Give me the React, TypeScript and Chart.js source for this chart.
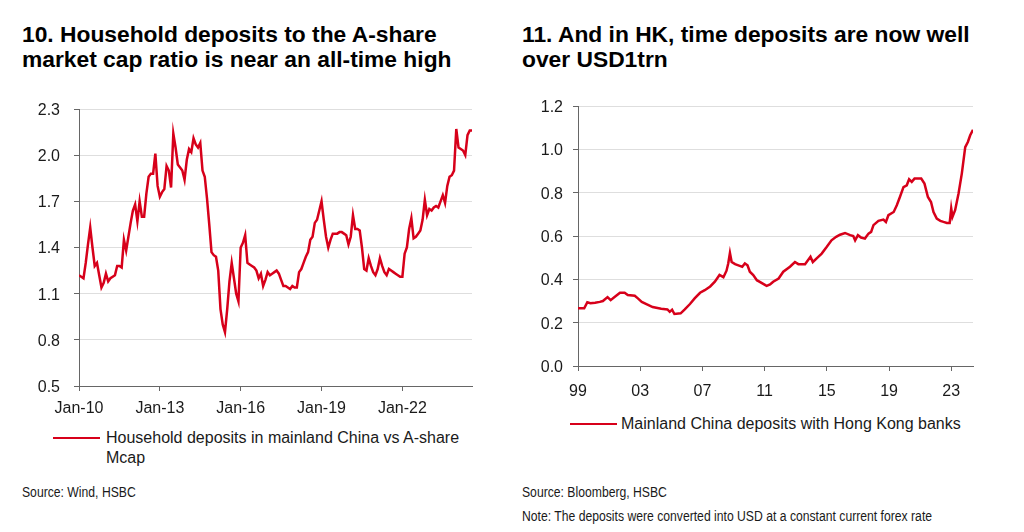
import React, { useEffect, useRef } from "react";
import { Chart, registerables } from "chart.js";

Chart.register(...registerables);

const FONT = '"Liberation Sans", Arial, Helvetica, sans-serif';
const RED = "#d7001a";

// ---- Chart 10: household deposits / A-share mcap (monthly from Jan-2010) ----
const ratioValues = [
  1.22, 1.21, 1.2, 1.3, 1.42, 1.53, 1.4, 1.28, 1.3, 1.22, 1.14, 1.17,
  1.23, 1.18, 1.2, 1.21, 1.22, 1.28, 1.28, 1.27, 1.45, 1.38, 1.47, 1.56,
  1.64, 1.68, 1.57, 1.7, 1.6, 1.6, 1.75, 1.86, 1.88, 1.88, 2.01, 1.8,
  1.73, 1.76, 1.78, 1.93, 1.9, 1.79, 2.14, 2.05, 1.94, 1.92, 1.9, 1.84,
  1.97, 2.04, 2.02, 2.11, 2.07, 2.05, 2.08, 1.9, 1.86, 1.72, 1.55, 1.37,
  1.35, 1.34, 1.25, 1.0, 0.9, 0.85, 1.0, 1.18, 1.3, 1.2, 1.1, 1.05,
  1.4, 1.43, 1.48, 1.3, 1.29, 1.28, 1.27, 1.25, 1.2, 1.23, 1.15, 1.19,
  1.24, 1.22, 1.23, 1.24, 1.25, 1.23, 1.19, 1.15, 1.15, 1.14, 1.13, 1.15,
  1.14, 1.14, 1.24, 1.26, 1.3, 1.34, 1.37, 1.45, 1.47, 1.56, 1.58, 1.64,
  1.7, 1.58, 1.47, 1.4, 1.45, 1.49, 1.49, 1.49, 1.5, 1.5, 1.49, 1.48,
  1.42, 1.47, 1.61, 1.52, 1.52, 1.51, 1.4, 1.26, 1.25, 1.33, 1.28, 1.24,
  1.22, 1.26, 1.33, 1.28, 1.24, 1.22, 1.26, 1.25, 1.24, 1.23, 1.22, 1.21,
  1.21, 1.36, 1.4, 1.52, 1.59, 1.46, 1.47, 1.49, 1.51, 1.58, 1.71, 1.61,
  1.65, 1.64, 1.66, 1.67, 1.66, 1.7, 1.74, 1.69, 1.8, 1.86, 1.87, 1.9,
  2.17, 2.05, 2.04, 2.03, 2.0, 2.13, 2.16, 2.16,
];
const ratioXTicks = [0, 36, 72, 108, 144]; // months since Jan-10
const ratioXTickLabels = ["Jan-10", "Jan-13", "Jan-16", "Jan-19", "Jan-22"];
const ratioYTicks = [0.5, 0.8, 1.1, 1.4, 1.7, 2.0, 2.3];

// ---- Chart 11: Mainland China deposits with HK banks (USD trn) ----
const hkYears = [
  1999.0, 1999.4, 1999.6, 1999.8, 2000.1, 2000.4, 2000.6, 2000.9, 2001.1, 2001.35,
  2001.7, 2002.0, 2002.2, 2002.65, 2002.85, 2003.1, 2003.4, 2003.8, 2004.35, 2004.75,
  2004.9, 2005.05, 2005.2, 2005.6, 2005.85, 2006.2, 2006.5, 2006.85, 2007.15, 2007.5,
  2007.8, 2008.1, 2008.35, 2008.55, 2008.66, 2008.77, 2008.88, 2009.1, 2009.4, 2009.56,
  2009.73, 2009.9, 2010.05, 2010.27, 2010.5, 2010.8, 2011.13, 2011.35, 2011.55, 2011.9,
  2012.2, 2012.63, 2012.95, 2013.17, 2013.6, 2013.95, 2014.1, 2014.45, 2014.67, 2015.0,
  2015.3, 2015.6, 2015.85, 2016.17, 2016.5, 2016.7, 2016.82, 2017.0, 2017.2, 2017.45,
  2017.68, 2017.85, 2018.0, 2018.32, 2018.64, 2018.8, 2018.96, 2019.3, 2019.5, 2019.7,
  2019.93, 2020.14, 2020.29, 2020.46, 2020.64, 2020.85, 2021.07, 2021.28, 2021.5, 2021.7,
  2021.86, 2022.07, 2022.3, 2022.5, 2022.72, 2022.9, 2023.0, 2023.08, 2023.25, 2023.47,
  2023.68, 2023.9, 2024.07, 2024.22, 2024.4,
];
const hkValues = [
  0.266, 0.266, 0.294, 0.29, 0.292, 0.296, 0.3, 0.318, 0.304, 0.318,
  0.338, 0.338, 0.328, 0.324, 0.312, 0.296, 0.286, 0.272, 0.264, 0.261,
  0.25, 0.26, 0.24, 0.243, 0.26, 0.286, 0.312, 0.338, 0.35, 0.367,
  0.389, 0.42, 0.41, 0.44, 0.473, 0.522, 0.48, 0.47, 0.462, 0.458,
  0.473, 0.465, 0.435, 0.42, 0.396, 0.384, 0.37, 0.376, 0.389, 0.404,
  0.435, 0.458, 0.48, 0.47, 0.47, 0.504, 0.48, 0.504, 0.519, 0.55,
  0.58, 0.596, 0.606, 0.614, 0.604, 0.6, 0.58, 0.604, 0.593, 0.588,
  0.611, 0.619, 0.65, 0.67, 0.676, 0.665, 0.696, 0.711, 0.742, 0.78,
  0.826, 0.834, 0.862, 0.85, 0.865, 0.865, 0.865, 0.842, 0.78, 0.757,
  0.711, 0.68, 0.67, 0.665, 0.66, 0.66, 0.727, 0.688, 0.719, 0.796,
  0.888, 1.01, 1.034, 1.065, 1.09,
];
const hkXTicks = [1999, 2003, 2007, 2011, 2015, 2019, 2023];
const hkXTickLabels = ["99", "03", "07", "11", "15", "19", "23"];
const hkYTicks = [0, 0.2, 0.4, 0.6, 0.8, 1.0, 1.2];

type LineProps = {
  width: number;
  height: number;
  points: { x: number; y: number }[];
  xMin: number;
  xMax: number;
  xTicks: number[];
  xTickLabels: string[];
  yTicks: number[];
  yWidth: number;
  xHeight: number;
  yPad: number;
  xPad: number;
  padTop: number;
  padRight: number;
};

function LineChart(p: LineProps) {
  const ref = useRef<HTMLCanvasElement | null>(null);
  useEffect(() => {
    if (!ref.current) return;
    const tickFont = { family: FONT, size: 16 };
    const chart = new Chart(ref.current, {
      type: "line",
      data: {
        datasets: [
          {
            data: p.points,
            borderColor: RED,
            borderWidth: 2.5,
            pointRadius: 0,
            tension: 0,
            fill: false,
          },
        ],
      },
      options: {
        animation: false,
        responsive: false,
        devicePixelRatio: 1,
        parsing: false as any,
        layout: { padding: { top: p.padTop, right: p.padRight, left: 0, bottom: 0 } },
        plugins: { legend: { display: false }, tooltip: { enabled: false } },
        scales: {
          x: {
            type: "linear",
            min: p.xMin,
            max: p.xMax,
            afterBuildTicks: (s: any) => {
              s.ticks = p.xTicks.map((v) => ({ value: v }));
            },
            afterFit: (s: any) => {
              s.height = p.xHeight;
              s.paddingLeft = 0;
              s.paddingRight = 0;
            },
            grid: { drawOnChartArea: false, drawTicks: true, tickLength: 5, tickColor: "#666" },
            border: { color: "#666", width: 1 },
            ticks: {
              font: tickFont,
              color: "#1a1a1a",
              padding: p.xPad,
              maxRotation: 0,
              autoSkip: false,
              callback: (v: any) => {
                const i = p.xTicks.indexOf(Number(v));
                return i >= 0 ? p.xTickLabels[i] : "";
              },
            },
          },
          y: {
            type: "linear",
            min: p.yTicks[0],
            max: p.yTicks[p.yTicks.length - 1],
            afterBuildTicks: (s: any) => {
              s.ticks = p.yTicks.map((v) => ({ value: v }));
            },
            afterFit: (s: any) => {
              s.width = p.yWidth;
              s.paddingTop = 0;
              s.paddingBottom = 0;
            },
            grid: {
              color: (c: any) => (c.index === 0 ? "rgba(0,0,0,0)" : "#dedede"),
              lineWidth: 1,
              drawTicks: true,
              tickLength: 5,
              tickColor: "#666",
            },
            border: { color: "#666", width: 1 },
            ticks: {
              font: tickFont,
              color: "#1a1a1a",
              padding: p.yPad,
              labelOffset: 1.5,
              callback: (v: any) => Number(v).toFixed(1),
            },
          },
        },
      },
    } as any);
    return () => chart.destroy();
  }, []);
  return <canvas ref={ref} width={p.width} height={p.height} style={{ display: "block" }} />;
}

const titleStyle: React.CSSProperties = {
  position: "absolute",
  fontFamily: FONT,
  fontWeight: "bold",
  fontSize: 22.8,
  lineHeight: "25px",
  color: "#000",
  whiteSpace: "nowrap",
};
const legendText: React.CSSProperties = {
  position: "absolute",
  fontFamily: FONT,
  fontSize: 16,
  lineHeight: "20px",
  color: "#1a1a1a",
  whiteSpace: "nowrap",
};
const smallText: React.CSSProperties = {
  position: "absolute",
  fontFamily: FONT,
  fontSize: 14,
  lineHeight: "16px",
  color: "#1a1a1a",
  whiteSpace: "nowrap",
  transform: "scaleX(0.87)",
  transformOrigin: "left center",
};

export default function App() {
  return (
    <div
      style={{
        position: "absolute",
        left: 0,
        top: 0,
        width: 1024,
        height: 532,
        background: "#fff",
        overflow: "hidden",
      }}
    >
      <div style={{ ...titleStyle, left: 22, top: 22 }}>
        10. Household deposits to the A-share
        <br />
        market cap ratio is near an all-time high
      </div>
      <div style={{ ...titleStyle, left: 522, top: 22 }}>
        11. And in HK, time deposits are now well
        <br />
        over USD1trn
      </div>

      <div style={{ position: "absolute", left: 0, top: 95 }}>
        <LineChart
          width={490}
          height={320}
          points={ratioValues.map((v, i) => ({ x: i, y: v }))}
          xMin={0}
          xMax={ratioValues.length - 1}
          xTicks={ratioXTicks}
          xTickLabels={ratioXTickLabels}
          yTicks={ratioYTicks}
          yWidth={79}
          xHeight={29}
          yPad={14}
          xPad={8}
          padTop={14}
          padRight={18}
        />
      </div>
      <div style={{ position: "absolute", left: 500, top: 90 }}>
        <LineChart
          width={500}
          height={310}
          points={hkYears.map((x, i) => ({ x, y: hkValues[i] }))}
          xMin={1999}
          xMax={hkYears[hkYears.length - 1]}
          xTicks={hkXTicks}
          xTickLabels={hkXTickLabels}
          yTicks={hkYTicks}
          yWidth={78}
          xHeight={34}
          yPad={10}
          xPad={11}
          padTop={16}
          padRight={27}
        />
      </div>

      <div style={{ position: "absolute", left: 53, top: 437, width: 47, height: 2, background: RED }} />
      <div style={{ ...legendText, left: 106, top: 428 }}>
        Household deposits in mainland China vs A-share
        <br />
        Mcap
      </div>
      <div style={{ position: "absolute", left: 570, top: 423, width: 47, height: 2, background: RED }} />
      <div style={{ ...legendText, left: 621, top: 414 }}>Mainland China deposits with Hong Kong banks</div>

      <div style={{ ...smallText, left: 22, top: 484 }}>Source: Wind, HSBC</div>
      <div style={{ ...smallText, left: 522, top: 484 }}>Source: Bloomberg, HSBC</div>
      <div style={{ ...smallText, left: 522, top: 508 }}>
        Note: The deposits were converted into USD at a constant current forex rate
      </div>
    </div>
  );
}
